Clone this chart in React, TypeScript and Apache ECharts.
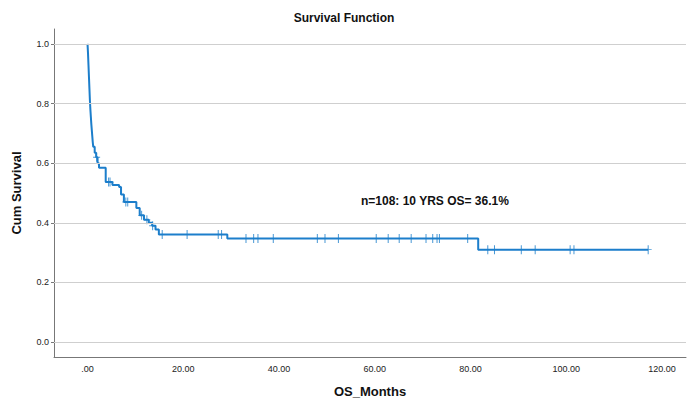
import React, { useEffect, useRef } from "react";
import * as echarts from "echarts";

const kmTimes = [0, 0.1, 0.2, 0.3, 0.4, 0.5, 0.6, 0.7, 0.8, 0.9, 1.0, 1.1, 1.2, 1.5, 1.8, 2.1, 2.4, 3.8, 5.2, 6.6, 7.0, 7.6, 10.2, 10.9, 11.8, 12.8, 13.5, 14.2, 14.9, 29.2, 81.6, 117.1];
const kmSurv = [1.0, 0.97, 0.93, 0.89, 0.85, 0.81, 0.78, 0.755, 0.73, 0.71, 0.69, 0.67, 0.655, 0.635, 0.62, 0.6, 0.585, 0.537, 0.527, 0.52, 0.495, 0.47, 0.45, 0.425, 0.41, 0.4, 0.39, 0.378, 0.361, 0.347, 0.31, 0.31];
const censorTimes = [1.9, 4.4, 4.7, 8.0, 8.4, 11.3, 12.4, 13.6, 15.6, 20.8, 27.3, 28.0, 33.1, 34.7, 35.6, 38.8, 48.0, 49.6, 52.4, 60.3, 62.8, 65.1, 67.6, 70.7, 72.1, 73.0, 73.5, 79.4, 83.6, 85.0, 90.6, 93.5, 100.8, 101.6, 117.1];
const xTicks = [0, 20, 40, 60, 80, 100, 120];
const yTicks = [0, 0.2, 0.4, 0.6, 0.8, 1.0];
const titleText = "Survival Function";
const xName = "OS_Months";
const yName = "Cum Survival";
const annotation = "n=108: 10 YRS OS= 36.1%";

function survAt(t: number): number {
  let v = kmSurv[0];
  for (let i = 0; i < kmTimes.length; i++) {
    if (kmTimes[i] <= t) v = kmSurv[i];
  }
  return v;
}

const BLUE = "#1c7ecb";

export default function App() {
  const ref = useRef<HTMLDivElement>(null);
  useEffect(() => {
    if (!ref.current) return;
    const chart = echarts.init(ref.current, null, { renderer: "svg" });
    const font = "'Liberation Sans', Arial, sans-serif";
    chart.setOption({
      animation: false,
      backgroundColor: "#ffffff",
      textStyle: { fontFamily: font },
      title: {
        text: titleText,
        left: 339,
        textAlign: "center",
        top: 7,
        textStyle: { fontSize: 12, fontWeight: "bold", color: "#111", fontFamily: font },
      },
      grid: { left: 54, right: 2, top: 29, bottom: 44, containLabel: false },
      xAxis: {
        type: "value",
        min: -7,
        max: 125,
        name: xName,
        nameLocation: "middle",
        nameGap: 28,
        nameTextStyle: { fontSize: 13, fontWeight: "bold", color: "#111", fontFamily: font },
        axisLine: { show: true, onZero: false, lineStyle: { color: "#777", width: 1 } },
        axisTick: { show: false, customValues: xTicks },
        splitLine: { show: false },
        axisLabel: {
          customValues: xTicks,
          fontSize: 9,
          color: "#222",
          margin: 7,
          formatter: (v: number) => (v === 0 ? ".00" : v.toFixed(2)),
        },
      },
      yAxis: {
        type: "value",
        min: -0.05,
        max: 1.05,
        name: yName,
        nameLocation: "middle",
        nameGap: 31,
        nameTextStyle: { fontSize: 13, fontWeight: "bold", color: "#111", fontFamily: font },
        axisLine: { show: true, onZero: false, lineStyle: { color: "#777", width: 1 } },
        axisTick: { show: true, length: 3, customValues: yTicks, lineStyle: { color: "#777" } },
        splitLine: { show: false },
        axisLabel: {
          customValues: yTicks,
          fontSize: 9,
          color: "#222",
          margin: 5,
          formatter: (v: number) => v.toFixed(1),
        },
      },
      graphic: [
        {
          type: "text",
          left: 361,
          top: 195,
          style: { text: annotation, fontSize: 12, fontWeight: "bold", fill: "#111", fontFamily: font },
        },
      ],
      series: [
        {
          type: "line",
          name: "grid",
          data: [],
          z: 1,
          silent: true,
          markLine: {
            silent: true,
            symbol: ["none", "none"],
            label: { show: false },
            lineStyle: { color: "#cfcfcf", type: "solid", width: 1 },
            data: yTicks.map((v) => ({ yAxis: v })),
          },
        },
        {
          type: "line",
          name: "Survival",
          step: "end",
          z: 3,
          showSymbol: false,
          symbol: "none",
          lineStyle: { color: BLUE, width: 2 },
          data: kmTimes.map((t, i) => [t, kmSurv[i]]),
        },
        {
          type: "scatter",
          name: "Censored",
          z: 4,
          symbol: "path://M3,0 H4 V10 H3 Z M0,4.5 H7 V5.5 H0 Z",
          symbolSize: [7, 9],
          itemStyle: { color: BLUE },
          data: censorTimes.map((t) => [t, survAt(t)]),
        },
      ],
    });
    return () => chart.dispose();
  }, []);
  return (
    <div
      ref={ref}
      style={{ position: "fixed", left: 0, top: 0, width: 688, height: 403 }}
    />
  );
}
